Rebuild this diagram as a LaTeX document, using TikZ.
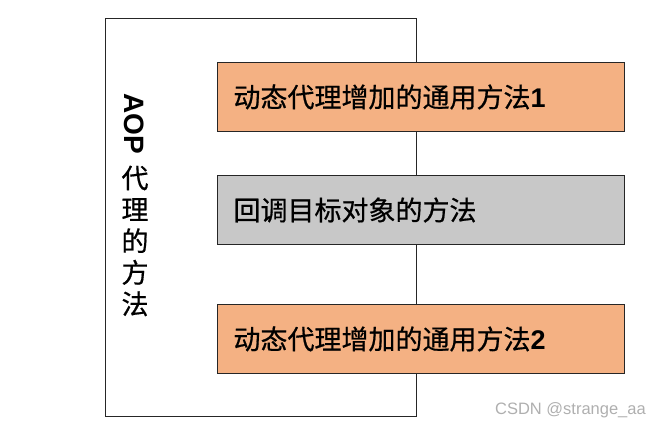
\documentclass[tikz,border=0pt]{standalone}
\usepackage{fontspec}
\setmainfont{Liberation Sans}
\newfontfamily\cjk[FakeBold=0.6]{Noto Sans CJK SC}
\newfontfamily\cjkplain{Noto Sans CJK SC}
\definecolor{boxorange}{RGB}{244,177,131}
\definecolor{boxgray}{RGB}{200,200,200}
\definecolor{wmgray}{RGB}{175,175,175}
\newcommand{\dg}[1]{{\rmfamily\bfseries #1}}
\begin{document}
\begin{tikzpicture}[x=1pt,y=-1pt,
  methodbox/.style={draw=black!85, line width=1pt, rectangle, minimum height=69pt,
    text width=375pt, align=left, inner xsep=16pt, inner ysep=0pt, anchor=north west,
    font=\cjk\fontsize{27}{30}\selectfont},
  frame/.style={draw=black!85, line width=1pt, rectangle, fill=white, inner sep=0pt,
    anchor=north west}]
\useasboundingbox (0,0) rectangle (660,430);
\node[frame, minimum width=311pt, minimum height=398pt] (outer) at (105,18) {};
\node[methodbox, fill=boxorange] (m1) at (217,62) {动态代理增加的通用方法\dg{1}};
\node[methodbox, fill=boxgray] (m2) at (217,175) {回调目标对象的方法};
\node[methodbox, fill=boxorange] (m3) at (217,304) {动态代理增加的通用方法\dg{2}};
\node[rotate=-90, font=\bfseries\fontsize{28}{30}\selectfont, inner sep=0pt] (aop) at (134,123.5) {AOP};
\node[align=center, inner sep=0pt, font=\cjk\fontsize{27}{31.5}\selectfont] (aopcn) at (135,241) {代\\理\\的\\方\\法};
\node[font=\fontsize{16.5}{18}\selectfont, text=wmgray, anchor=east, inner sep=0pt] (wm) at (646,410) {CSDN @strange\_aa};
\end{tikzpicture}
\end{document}
